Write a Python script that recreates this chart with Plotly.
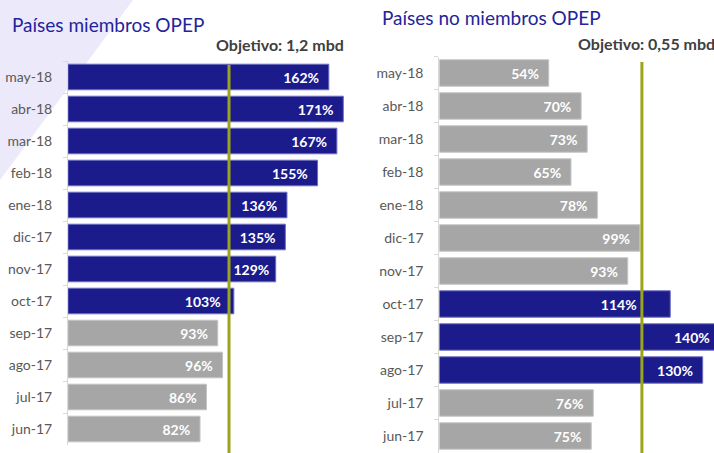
import plotly.graph_objects as go

categories = ["may-18", "abr-18", "mar-18", "feb-18", "ene-18", "dic-17",
              "nov-17", "oct-17", "sep-17", "ago-17", "jul-17", "jun-17"]
opep_values = [162, 171, 167, 155, 136, 135, 129, 103, 93, 96, 86, 82]
no_opep_values = [54, 70, 73, 65, 78, 99, 93, 114, 140, 130, 76, 75]
target_pct = 100
left_title = "Países miembros OPEP"
right_title = "Países no miembros OPEP"
left_target = "Objetivo: 1,2 mbd"
right_target = "Objetivo: 0,55 mbd"

# label padding (in non-breaking spaces) from bar end; defaults to 2
left_label_pad = {"nov-17": 1, "oct-17": 3}
right_label_pad = {"oct-17": 9, "sep-17": 3}

W, H = 714, 453
BLUE = "#1B1B8C"
GRAY = "#A6A6A6"
OLIVE = "#9AA51C"
FONT = "Lato, 'Open Sans', sans-serif"


def px_x(p):
    return p / W


def px_y(p):
    return 1 - p / H


def colors(vals):
    return [BLUE if v >= target_pct else GRAY for v in vals]


def edge(vals):
    return ["#6E6EC0" if v >= target_pct else "#C4C4C4" for v in vals]


fig = go.Figure()
for vals, pads, xa, ya in [(opep_values, left_label_pad, "x", "y"),
                           (no_opep_values, right_label_pad, "x2", "y2")]:
    fig.add_trace(go.Bar(
        y=categories, x=vals, orientation="h", xaxis=xa, yaxis=ya,
        marker=dict(color=colors(vals), line=dict(color=edge(vals), width=1)),
        text=[f"{v}%" + "\u00a0" * pads.get(c, 2) for c, v in zip(categories, vals)],
        textposition="inside", insidetextanchor="end", constraintext="none",
        textfont=dict(family=FONT, size=14, color="white", weight="bold"),
        showlegend=False, hoverinfo="skip",
    ))

left_x0, left_x1 = 68, 360
right_x0, right_x1 = 439.3, 714
fig.update_layout(
    width=W, height=H, margin=dict(l=0, r=0, t=0, b=0),
    paper_bgcolor="white", plot_bgcolor="rgba(0,0,0,0)",
    bargap=0.2, font=dict(family=FONT),
    xaxis=dict(domain=[px_x(left_x0), px_x(left_x1)], range=[0, (left_x1 - left_x0) / 1.61],
               visible=False, fixedrange=True),
    yaxis=dict(domain=[px_y(445), px_y(61)], categoryorder="array", categoryarray=categories,
               autorange="reversed", showline=True, linecolor="#D9D9D9", linewidth=1,
               ticks="outside", tickson="boundaries", ticklen=4, tickcolor="#D9D9D9",
               tickfont=dict(family=FONT, size=14, color="#595959"), ticklabelstandoff=12,
               showgrid=False, anchor="x", fixedrange=True),
    xaxis2=dict(domain=[px_x(right_x0), 1], range=[0, (right_x1 - right_x0) / 2.026],
                visible=False, fixedrange=True),
    yaxis2=dict(domain=[px_y(452.5), px_y(56.5)], categoryorder="array", categoryarray=categories,
                autorange="reversed", showline=True, linecolor="#D9D9D9", linewidth=1,
                ticks="outside", tickson="boundaries", ticklen=4, tickcolor="#D9D9D9",
                tickfont=dict(family=FONT, size=14, color="#595959"), ticklabelstandoff=12,
                showgrid=False, anchor="x2", fixedrange=True),
)

# decorative lavender corner
fig.add_shape(type="path", xref="paper", yref="paper",
              path=f"M 0 1 L {px_x(133)} 1 L 0 {px_y(180)} Z",
              fillcolor="#ECEAFA", line=dict(width=0), layer="below")

# target lines
fig.add_shape(type="line", xref="x", yref="paper", x0=target_pct, x1=target_pct,
              y0=0, y1=px_y(65), line=dict(color=OLIVE, width=3))
fig.add_shape(type="line", xref="x2", yref="paper", x0=target_pct, x1=target_pct,
              y0=0, y1=px_y(62), line=dict(color=OLIVE, width=3))

fig.add_annotation(text=left_title, xref="paper", yref="paper", x=px_x(10), y=px_y(24),
                   xanchor="left", yanchor="middle", showarrow=False,
                   font=dict(family=FONT, size=19, color="#24249A"))
fig.add_annotation(text=right_title, xref="paper", yref="paper", x=px_x(380), y=px_y(18),
                   xanchor="left", yanchor="middle", showarrow=False,
                   font=dict(family=FONT, size=19, color="#24249A"))
fig.add_annotation(text=f"<b>{left_target}</b>", xref="paper", yref="paper", x=px_x(344), y=px_y(44),
                   xanchor="right", yanchor="middle", showarrow=False, xshift=2,
                   font=dict(family=FONT, size=16, color="#404040"))
fig.add_annotation(text=f"<b>{right_target}</b>", xref="paper", yref="paper", x=px_x(714), y=px_y(43),
                   xanchor="right", yanchor="middle", showarrow=False, xshift=3,
                   font=dict(family=FONT, size=16, color="#404040"))

fig.write_html("out.html", config={"displayModeBar": False},
               post_script="document.body.style.margin='0';document.body.style.overflow='hidden';")
